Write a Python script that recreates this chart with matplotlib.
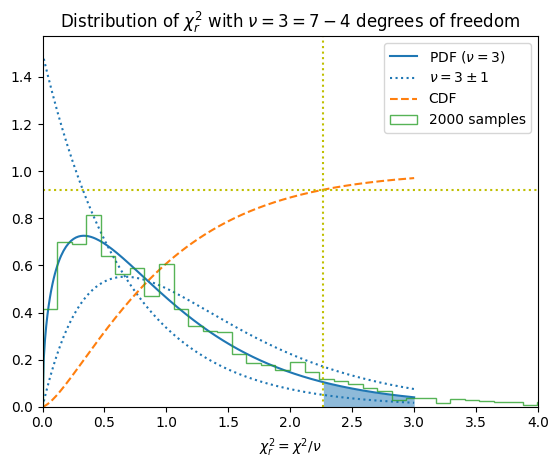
import math
import numpy as np
import matplotlib
matplotlib.use("Agg")
import matplotlib.pyplot as plt

# --- parameters ---
nu = 3
nu_pm = [2, 4]          # nu - 1, nu + 1 (dotted curves)
x_obs = 2.267           # observed reduced chi^2 (vertical line)
x_max = 3.0             # curves drawn up to here
n_samples = 2000

# histogram of the samples (density), bin width ~0.1175
bin_width = 0.1175
hist_density = [0.414, 0.698, 0.690, 0.813, 0.640, 0.562, 0.588, 0.469, 0.605, 0.414,
                0.343, 0.323, 0.318, 0.224, 0.184, 0.176, 0.156, 0.188, 0.146, 0.119,
                0.109, 0.095, 0.078, 0.068, 0.030, 0.036, 0.036, 0.014, 0.031, 0.027,
                0.023, 0.019, 0.019, 0.009, 0.020]


def chi2_pdf(y, k):
    return y ** (k / 2 - 1) * np.exp(-y / 2) / (2 ** (k / 2) * math.gamma(k / 2))


def chi2r_pdf(x, k, scale):
    # pdf of chi^2 / scale
    return scale * chi2_pdf(scale * x, k)


def chi2_cdf_3(y):
    # closed form cdf for 3 degrees of freedom
    erf = np.vectorize(math.erf)
    return erf(np.sqrt(y / 2)) - np.sqrt(2 * y / np.pi) * np.exp(-y / 2)


x = np.linspace(0, x_max, 301)
pdf = chi2r_pdf(x, nu, nu)
cdf = chi2_cdf_3(nu * x)
p_obs = float(chi2_cdf_3(nu * x_obs))

fig = plt.figure(figsize=(5.58, 4.67), dpi=100)
ax = fig.add_axes([0.0762, 0.1291, 0.888, 0.7938])

ax.plot(x, pdf, color="C0", label=r"PDF ($\nu = 3$)")
for i, k in enumerate(nu_pm):
    ax.plot(x, chi2r_pdf(x, k, nu), ":", color="C0",
            label=r"$\nu = 3 \pm 1$" if i == 0 else None)
ax.plot(x, cdf, "--", color="C1", label="CDF")

edges = np.arange(len(hist_density) + 1) * bin_width
ax.hist(edges[:-1], bins=edges, weights=hist_density, histtype="step",
        color="tab:green", alpha=0.8, label=f"{n_samples} samples")

# shaded tail beyond the observed value
xs = x[x >= x_obs]
ax.fill_between(np.r_[x_obs, xs], 0, chi2r_pdf(np.r_[x_obs, xs], nu, nu),
                color="C0", alpha=0.5, linewidth=0)

ax.axvline(x_obs, color="y", linestyle=":")
ax.axhline(p_obs, color="y", linestyle=":")

ax.set_xlim(0, 4)
ax.set_ylim(0, 1.574)
ax.set_xlabel(r"$\chi_r^2 = \chi^2/\nu$")
ax.set_title(r"Distribution of $\chi_r^2$ with $\nu = 3 = 7 - 4$ degrees of freedom")
ax.legend(loc="upper right")

fig.savefig("out.png", dpi=100)
